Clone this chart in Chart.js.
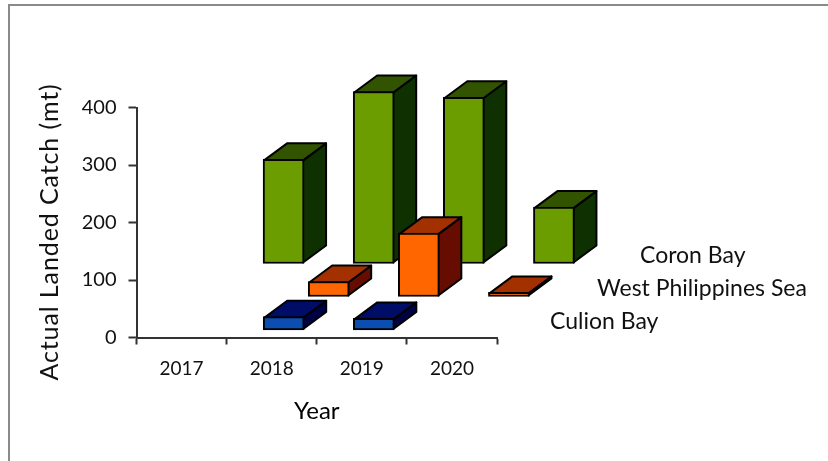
<!DOCTYPE html>
<html>
<head>
<meta charset="utf-8">
<script src="https://cdn.jsdelivr.net/npm/chart.js@4/dist/chart.umd.min.js"></script>
<style>
  html, body { margin: 0; background: #fff; overflow: hidden; }
  #wrap { position: relative; width: 828px; height: 461px; }
  #frame { position: absolute; left: 8px; top: 4px; right: 0; bottom: 0; border-left: 2px solid #8a8a8a; border-top: 2px solid #8a8a8a; }
  canvas { position: absolute; left: 0; top: 0; filter: blur(0.45px); }
</style>
</head>
<body>
<div id="wrap">
  <div id="frame"></div>
  <canvas id="chart" width="828" height="461"></canvas>
</div>
<script>
// Values (mt)
const years = ['2017', '2018', '2019', '2020'];
const culionBay = [null, 24, 21, null];
const westPhilippinesSea = [null, 27, 111, 8];
const coronBay = [182, 300, 290, 99];
const yTicks = [0, 100, 200, 300, 400];

const faceFront = ['#0c4db0', '#ff6600', '#6b9c00'];
const faceTop = ['#000d66', '#a33100', '#325400'];
const faceSide = ['#000045', '#660c00', '#0f3000'];
// how far each series sits back along the depth axis
const seriesShift = [[12, -7], [57, -40.5], [102, -73.5]];
const labelShift = [[53, 322], [100, 289], [143, 256]];
const depth = [23, -17];

const TEXT = '#111';
const FONT = 'Lato, "Open Sans", sans-serif';

// Draws top and side faces, then lets the library draw the front face shifted back
const depthBars = {
  id: 'depthBars',
  beforeDatasetDraw(chart, args) {
    const ctx = chart.ctx;
    const i = args.index;
    const shift = seriesShift[i];
    const values = chart.data.datasets[i].data;
    ctx.save();
    ctx.translate(shift[0], shift[1]);
    ctx.lineWidth = 2;
    ctx.lineJoin = 'round';
    ctx.strokeStyle = '#000';
    args.meta.data.forEach((bar, j) => {
      if (values[j] === null) return;
      const p = bar.getProps(['x', 'y', 'base', 'width'], true);
      const l = p.x - p.width / 2 + 1, r = p.x + p.width / 2 - 1;
      const top = p.y + 1, bottom = p.base - 1;
      ctx.fillStyle = faceSide[i];
      ctx.beginPath();
      ctx.moveTo(r, top);
      ctx.lineTo(r + depth[0], top + depth[1]);
      ctx.lineTo(r + depth[0], bottom + depth[1]);
      ctx.lineTo(r, bottom);
      ctx.closePath();
      ctx.fill();
      ctx.stroke();
      ctx.fillStyle = faceTop[i];
      ctx.beginPath();
      ctx.moveTo(l, top);
      ctx.lineTo(l + depth[0], top + depth[1]);
      ctx.lineTo(r + depth[0], top + depth[1]);
      ctx.lineTo(r, top);
      ctx.closePath();
      ctx.fill();
      ctx.stroke();
    });
  },
  afterDatasetDraw(chart) {
    chart.ctx.restore();
  }
};

// Series names along the depth axis and the y title, off-centre from the axis
const depthLabels = {
  id: 'depthLabels',
  afterDraw(chart) {
    const ctx = chart.ctx;
    const x = chart.scales.x;
    ctx.save();
    ctx.fillStyle = TEXT;
    ctx.font = '23px ' + FONT;
    ctx.textBaseline = 'middle';
    ctx.textAlign = 'left';
    chart.data.datasets.forEach((ds, i) => {
      ctx.fillText(ds.label, x.right + labelShift[i][0], labelShift[i][1]);
    });
    ctx.translate(50, 232);
    ctx.rotate(-Math.PI / 2);
    ctx.textAlign = 'center';
    ctx.font = '25px ' + FONT;
    ctx.letterSpacing = '0.9px';
    ctx.fillText('Actual Landed Catch (mt)', 0, 0);
    ctx.restore();
  }
};

new Chart(document.getElementById('chart'), {
  type: 'bar',
  data: {
    labels: years,
    datasets: [
      { label: 'Culion Bay', data: culionBay, backgroundColor: faceFront[0] },
      { label: 'West Philippines Sea', data: westPhilippinesSea, backgroundColor: faceFront[1] },
      { label: 'Coron Bay', data: coronBay, backgroundColor: faceFront[2] }
    ].map(ds => Object.assign(ds, {
      grouped: false,
      barThickness: 41,
      borderColor: '#000',
      borderWidth: 2,
      borderSkipped: false,
      clip: false
    }))
  },
  options: {
    responsive: false,
    animation: false,
    layout: { padding: { left: 0, right: 331, top: 107.5, bottom: 0 } },
    plugins: { legend: { display: false }, tooltip: { enabled: false } },
    scales: {
      x: {
        afterFit: s => { s.height = 123.5; },
        grid: { drawOnChartArea: false, tickLength: 7, tickColor: '#333', tickWidth: 2 },
        border: { color: '#333', width: 2 },
        ticks: { color: TEXT, font: { family: FONT, size: 19 }, padding: 13, maxRotation: 0 },
        title: { display: true, text: 'Year', color: '#000', font: { family: FONT, size: 24 }, padding: { top: 0, bottom: 35 } }
      },
      y: {
        min: 0,
        max: 400,
        afterFit: s => { s.width = 136.5; },
        afterBuildTicks: s => { s.ticks = yTicks.map(v => ({ value: v })); },
        grid: { drawOnChartArea: false, tickLength: 8, tickColor: '#333', tickWidth: 2 },
        border: { color: '#333', width: 2 },
        ticks: { color: TEXT, font: { family: FONT, size: 20 }, padding: 12 }
      }
    }
  },
  plugins: [depthBars, depthLabels]
});
</script>
</body>
</html>
